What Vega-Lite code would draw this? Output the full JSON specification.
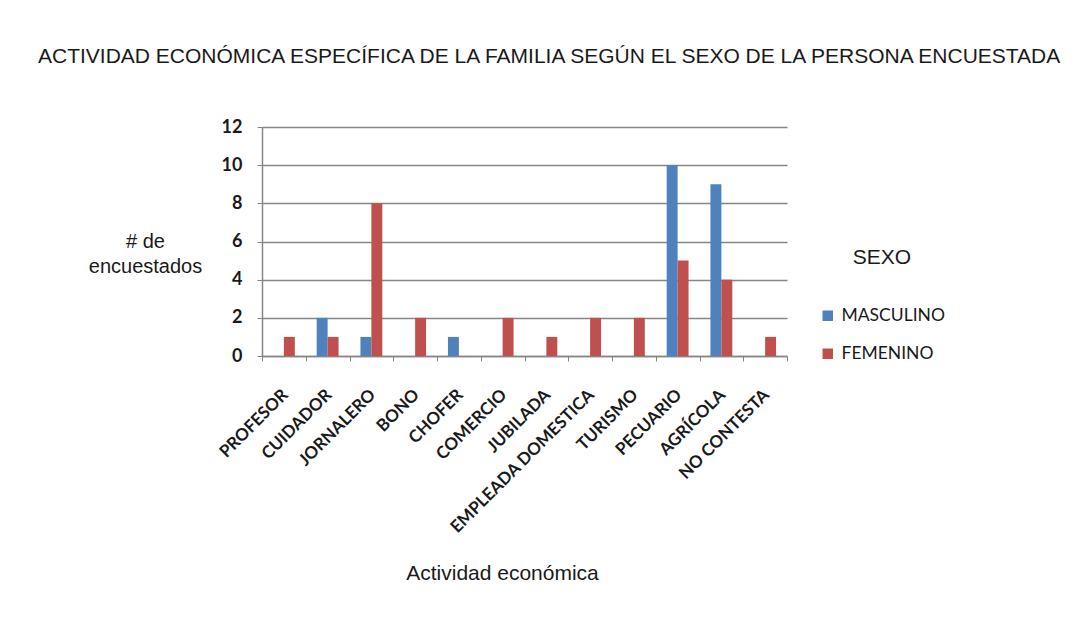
{
  "$schema": "https://vega.github.io/schema/vega-lite/v6.json",
  "autosize": "none",
  "width": 525,
  "height": 229,
  "padding": {"left": 262, "top": 127, "right": 302, "bottom": 274},
  "background": "white",
  "title": {
    "text": "ACTIVIDAD ECONÓMICA ESPECÍFICA DE LA FAMILIA SEGÚN EL SEXO DE LA PERSONA ENCUESTADA",
    "anchor": "start",
    "frame": "group",
    "dx": -224,
    "offset": 51,
    "font": "Liberation Sans",
    "fontSize": 21,
    "fontWeight": "normal",
    "color": "#1a1a1a"
  },
  "data": {
    "values": [
      {"actividad": "PROFESOR", "sexo": "MASCULINO", "n": 0},
      {"actividad": "PROFESOR", "sexo": "FEMENINO", "n": 1},
      {"actividad": "CUIDADOR", "sexo": "MASCULINO", "n": 2},
      {"actividad": "CUIDADOR", "sexo": "FEMENINO", "n": 1},
      {"actividad": "JORNALERO", "sexo": "MASCULINO", "n": 1},
      {"actividad": "JORNALERO", "sexo": "FEMENINO", "n": 8},
      {"actividad": "BONO", "sexo": "MASCULINO", "n": 0},
      {"actividad": "BONO", "sexo": "FEMENINO", "n": 2},
      {"actividad": "CHOFER", "sexo": "MASCULINO", "n": 1},
      {"actividad": "CHOFER", "sexo": "FEMENINO", "n": 0},
      {"actividad": "COMERCIO", "sexo": "MASCULINO", "n": 0},
      {"actividad": "COMERCIO", "sexo": "FEMENINO", "n": 2},
      {"actividad": "JUBILADA", "sexo": "MASCULINO", "n": 0},
      {"actividad": "JUBILADA", "sexo": "FEMENINO", "n": 1},
      {"actividad": "EMPLEADA DOMESTICA", "sexo": "MASCULINO", "n": 0},
      {"actividad": "EMPLEADA DOMESTICA", "sexo": "FEMENINO", "n": 2},
      {"actividad": "TURISMO", "sexo": "MASCULINO", "n": 0},
      {"actividad": "TURISMO", "sexo": "FEMENINO", "n": 2},
      {"actividad": "PECUARIO", "sexo": "MASCULINO", "n": 10},
      {"actividad": "PECUARIO", "sexo": "FEMENINO", "n": 5},
      {"actividad": "AGRÍCOLA", "sexo": "MASCULINO", "n": 9},
      {"actividad": "AGRÍCOLA", "sexo": "FEMENINO", "n": 4},
      {"actividad": "NO CONTESTA", "sexo": "MASCULINO", "n": 0},
      {"actividad": "NO CONTESTA", "sexo": "FEMENINO", "n": 1}
    ]
  },
  "mark": {"type": "bar"},
  "encoding": {
    "x": {
      "field": "actividad",
      "type": "nominal",
      "sort": ["PROFESOR", "CUIDADOR", "JORNALERO", "BONO", "CHOFER", "COMERCIO", "JUBILADA", "EMPLEADA DOMESTICA", "TURISMO", "PECUARIO", "AGRÍCOLA", "NO CONTESTA"],
      "scale": {"paddingInner": 0, "paddingOuter": 0},
      "title": "Actividad económica",
      "axis": {
        "labelAngle": -45,
        "labelAlign": "right",
        "labelBaseline": "middle",
        "labelPadding": 31,
        "labelOffset": 1,
        "labelLimit": 0,
        "labelFont": "Lato",
        "labelFontSize": 17,
        "labelFontWeight": "bold",
        "labelColor": "#1a1a1a",
        "tickBand": "extent",
        "tickSize": 5,
        "tickColor": "#868686",
        "domainColor": "#868686",
        "domainWidth": 1.5,
        "titleFont": "Liberation Sans",
        "titleFontSize": 21,
        "titleFontWeight": "normal",
        "titleColor": "#1a1a1a",
        "titleX": 240,
        "titleY": 217,
        "titleBaseline": "middle"
      }
    },
    "xOffset": {
      "field": "sexo",
      "type": "nominal",
      "sort": ["MASCULINO", "FEMENINO"],
      "scale": {"paddingInner": 0, "paddingOuter": 1}
    },
    "y": {
      "field": "n",
      "type": "quantitative",
      "scale": {"domain": [0, 12]},
      "title": ["# de", "encuestados"],
      "axis": {
        "values": [0, 2, 4, 6, 8, 10, 12],
        "grid": true,
        "gridColor": "#868686",
        "gridWidth": 1.5,
        "domainColor": "#868686",
        "domainWidth": 1.5,
        "tickColor": "#868686",
        "tickSize": 5,
        "labelPadding": 15,
        "labelFont": "Lato",
        "labelFontSize": 18,
        "labelFontWeight": "bold",
        "labelColor": "#1a1a1a",
        "titleAngle": 0,
        "titleAlign": "center",
        "titleBaseline": "middle",
        "titleX": -117,
        "titleY": 114,
        "titleFont": "Liberation Sans",
        "titleFontSize": 20,
        "titleFontWeight": "normal",
        "titleColor": "#1a1a1a",
        "titleLineHeight": 25
      }
    },
    "color": {
      "field": "sexo",
      "type": "nominal",
      "sort": ["MASCULINO", "FEMENINO"],
      "scale": {"domain": ["MASCULINO", "FEMENINO"], "range": ["#4F81BD", "#C0504D"]},
      "legend": {
        "title": "SEXO",
        "orient": "none",
        "legendX": 557,
        "legendY": 120,
        "titleAnchor": "middle",
        "titleFont": "Liberation Sans",
        "titleFontSize": 21,
        "titleFontWeight": "normal",
        "titleColor": "#1a1a1a",
        "titlePadding": 39,
        "symbolType": "square",
        "symbolSize": 110,
        "symbolStrokeWidth": 0,
        "labelFont": "Lato",
        "labelFontSize": 17.5,
        "labelColor": "#1a1a1a",
        "labelOffset": 5,
        "rowPadding": 19
      }
    }
  },
  "config": {
    "view": {"stroke": null}
  }
}
